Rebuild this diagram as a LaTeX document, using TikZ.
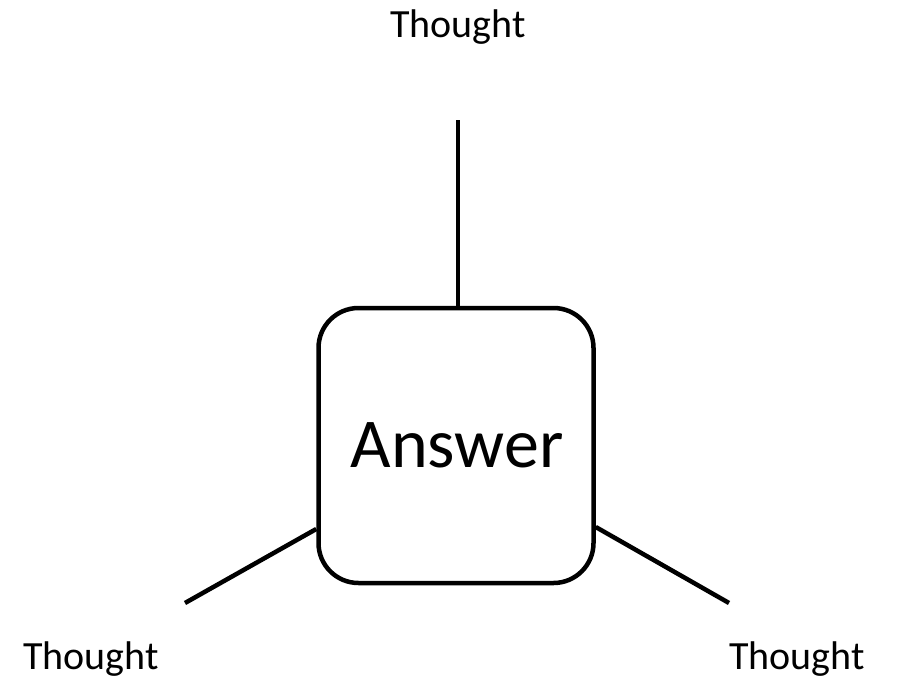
\documentclass[tikz,border=0pt]{standalone}
\usepackage{fontspec}
\setmainfont{Carlito}
\begin{document}
\begin{tikzpicture}[x=1pt,y=-1pt,
  conn/.style={line width=4.5pt},
  lbl/.style={inner sep=0pt,anchor=base,font=\fontsize{40}{42}\selectfont}]
\useasboundingbox (0,0) rectangle (901,680);
\node[draw,line width=4.5pt,rounded corners=40pt,minimum width=275pt,minimum height=275pt,inner sep=0pt] (ans) at (456,445.5) {};
\node[inner sep=0pt,anchor=base,font=\fontsize{70}{72}\selectfont] (atext) at (457,467) {Answer};
\coordinate (t) at (458,120);
\coordinate (bl) at (185,603);
\coordinate (br) at (729,603);
\draw[conn] (t) -- (ans.north -| t);
\draw[conn] (bl) -- ([yshift=-2pt]ans.west |- 0,527);
\draw[conn] (br) -- (ans.east |- 0,527);
\node[lbl] (tt) at (458,37) {Thought};
\node[lbl] (tl) at (91,669) {Thought};
\node[lbl] (tr) at (797,669) {Thought};
\end{tikzpicture}
\end{document}
